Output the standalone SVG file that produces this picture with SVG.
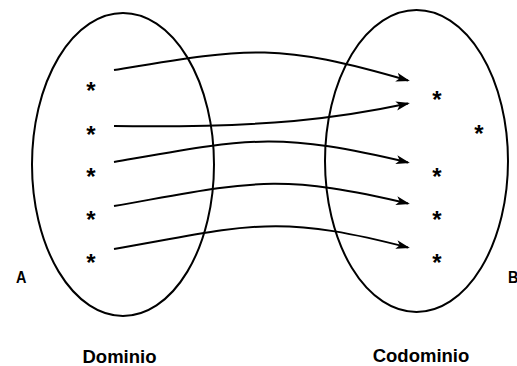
<svg xmlns="http://www.w3.org/2000/svg" width="517" height="366" viewBox="0 0 517 366">
<style>
.set{fill:none;stroke:#000;stroke-width:2}
.edge{fill:none;stroke:#000;stroke-width:2}
.star{font-family:"Liberation Sans",Arial,sans-serif;font-size:24px;font-weight:bold;text-anchor:middle;fill:#000}
.lbl{font-family:"Liberation Sans",Arial,sans-serif;font-weight:bold;fill:#000}
</style>
<defs>
<marker id="arr" viewBox="0 0 14 10" refX="12" refY="5" markerWidth="14" markerHeight="10" markerUnits="userSpaceOnUse" orient="auto">
<path d="M0,0.5 L14,5 L0,9.5 L3.5,5 z" fill="#000"/>
</marker>
</defs>
<rect width="517" height="366" fill="#fff"/>
<g id="dominio">
<ellipse class="set" cx="123" cy="164.5" rx="91" ry="151.5"/>
<text class="star" x="91" y="99">*</text>
<text class="star" x="91" y="143">*</text>
<text class="star" x="91" y="185">*</text>
<text class="star" x="91" y="228">*</text>
<text class="star" x="91" y="271">*</text>
<text class="lbl" font-size="18.5" x="119.5" y="362.5" text-anchor="middle">Dominio</text>
<text class="lbl" font-size="17" transform="translate(16,283) scale(0.85,1)">A</text>
</g>
<g id="codominio">
<ellipse class="set" cx="416.5" cy="161" rx="91.5" ry="151"/>
<text class="star" x="437" y="108">*</text>
<text class="star" x="479" y="142">*</text>
<text class="star" x="437" y="185">*</text>
<text class="star" x="437" y="228">*</text>
<text class="star" x="437" y="271">*</text>
<text class="lbl" font-size="18.5" x="421" y="362" text-anchor="middle">Codominio</text>
<text class="lbl" font-size="17" transform="translate(508,283) scale(0.85,1)">B</text>
</g>
<g id="connectors">
<path class="edge" marker-end="url(#arr)" d="M114,70 C249,47.7 275,41.9 408,80.5"/>
<path class="edge" marker-end="url(#arr)" d="M114,126 C270,128 340,118 408,103.5"/>
<path class="edge" marker-end="url(#arr)" d="M114,162 C249,138.5 275,131 408,162.5"/>
<path class="edge" marker-end="url(#arr)" d="M114,206 C249,182.5 275,172 408,203.5"/>
<path class="edge" marker-end="url(#arr)" d="M114,249 C249,225.5 275,213 408,247.5"/>
</g>
</svg>
